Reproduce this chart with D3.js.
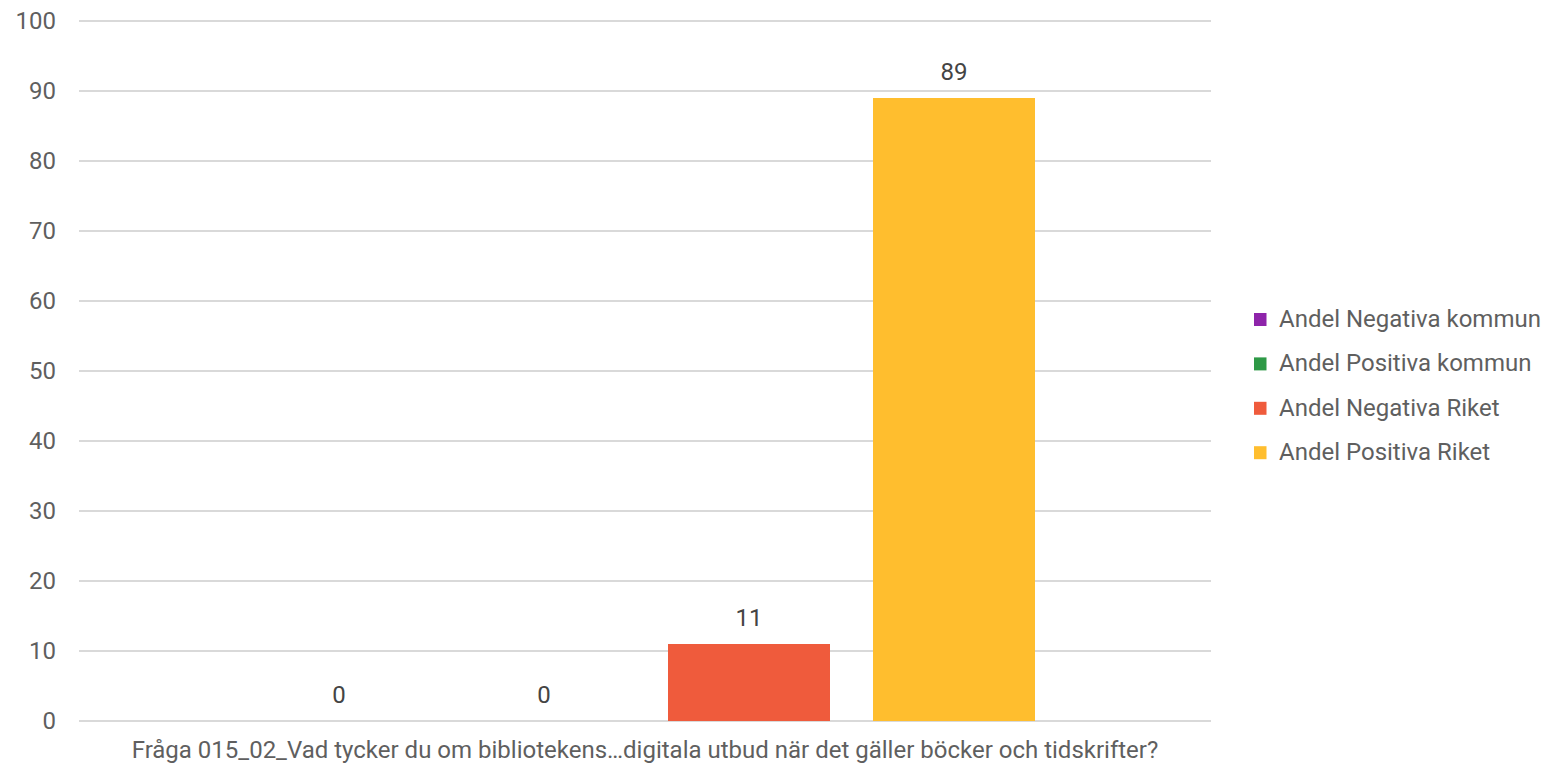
<!DOCTYPE html>
<html><head><meta charset="utf-8">
<script src="https://cdn.jsdelivr.net/npm/d3@7"></script>
<style>body{margin:0;background:#fff}svg{display:block}text{font-family:Roboto,sans-serif}</style>
</head><body>
<script>
const categories = ["Fråga 015_02_Vad tycker du om bibliotekens…digitala utbud när det gäller böcker och tidskrifter?"];
const seriesNames = ["Andel Negativa kommun","Andel Positiva kommun","Andel Negativa Riket","Andel Positiva Riket"];
const seriesValues = [0, 0, 11, 89];
const seriesColors = ["#8e24aa","#2e9946","#ef5b3c","#ffbe2e"];
const yTicks = [0,10,20,30,40,50,60,70,80,90,100];

const W=1548,H=766;
const mLeft=79,mRight=1211,mTop=21,mBottom=721;
const svg=d3.select("body").append("svg").attr("width",W).attr("height",H);
const y=d3.scaleLinear().domain([0,100]).range([mBottom,mTop]);
const x0=d3.scaleBand().domain(categories).range([mLeft,mRight]).paddingInner(0).paddingOuter(0);
const x1=d3.scaleBand().domain(seriesNames).range([258-mLeft, 1035-mLeft]).paddingInner(43/205).paddingOuter(0);

const fs=24;
svg.append("g").selectAll("line").data(yTicks).join("line")
  .attr("x1",mLeft).attr("x2",mRight)
  .attr("y1",d=>y(d)).attr("y2",d=>y(d))
  .attr("stroke","#d9d9d9").attr("stroke-width",2);
svg.append("g").selectAll("text").data(yTicks).join("text")
  .attr("x",56).attr("y",d=>y(d)+8).attr("text-anchor","end")
  .attr("font-size",fs).attr("fill","#5f5f5f").text(d=>d);

const g=svg.append("g").attr("transform",`translate(${x0(categories[0])},0)`);
const data=seriesNames.map((n,i)=>({n,v:seriesValues[i],c:seriesColors[i]}));
g.selectAll("rect").data(data).join("rect")
  .attr("x",d=>x1(d.n)).attr("width",x1.bandwidth())
  .attr("y",d=>y(d.v)).attr("height",d=>mBottom-y(d.v)).attr("fill",d=>d.c);
g.selectAll("text.v").data(data).join("text").attr("class","v")
  .attr("x",d=>x1(d.n)+x1.bandwidth()/2).attr("y",d=>y(d.v)-18)
  .attr("text-anchor","middle").attr("font-size",fs).attr("fill","#444").text(d=>d.v);

svg.append("text").attr("x",x0(categories[0])+x0.bandwidth()/2).attr("y",758)
  .attr("text-anchor","middle").attr("font-size",fs).attr("fill","#5f5f5f").text(categories[0]);

const lg=svg.append("g");
const rows=lg.selectAll("g").data(data).join("g").attr("transform",(d,i)=>`translate(1254,${327+i*44.4})`);
rows.append("rect").attr("x",0).attr("y",-14).attr("width",12.5).attr("height",13).attr("fill",d=>d.c);
rows.append("text").attr("x",25).attr("y",0).attr("font-size",fs).attr("fill","#5f5f5f").text(d=>d.n);
</script>
</body></html>
